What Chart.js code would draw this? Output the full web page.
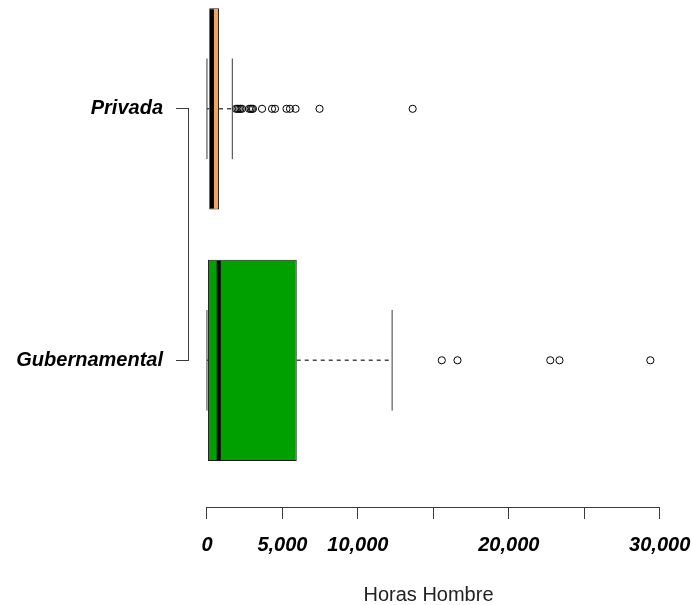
<!DOCTYPE html>
<html>
<head>
<meta charset="utf-8">
<script src="https://cdn.jsdelivr.net/npm/chart.js@4/dist/chart.umd.min.js"></script>
<style>
  html, body { margin: 0; padding: 0; background: #ffffff; }
  #wrap { width: 692px; height: 605px; }
</style>
</head>
<body>
<div id="wrap"><canvas id="c" width="692" height="605"></canvas></div>
<script>
// Boxplot of "Horas Hombre" by sector
const categories = ['Gubernamental', 'Privada'];
const categoryPos = [1, 2];
const boxColors = ['#00A000', '#F0A462'];
const lowerWhisker = [0, 0];
const q1 = [66, 150];
const median = [780, 330];
const q3 = [5950, 800];
const upperWhisker = [12270, 1680];
const outliersGub = [15560, 16600, 22750, 23360, 29380];
const outliersPriv = [1920, 2020, 2120, 2220, 2320, 2790, 2890, 2980, 3050,
                      3650, 4310, 4510, 5270, 5500, 5870, 7460, 13630];
const xTickValues = [0, 5000, 10000, 15000, 20000, 25000, 30000];
const xTickLabels = ['0', '5,000', '10,000', '', '20,000', '', '30,000'];

const FONT = '"Liberation Sans", Arial, sans-serif';
const LINE = '#3a3a3a';

const boxData = categories.map((c, i) => ({ y: categoryPos[i], x: [q1[i], q3[i]] }));
const outlierData = [
  ...outliersGub.map(v => ({ x: v, y: categoryPos[0] })),
  ...outliersPriv.map(v => ({ x: v, y: categoryPos[1] }))
];

// keep the plot region at a fixed size: no extra room reserved for edge labels
function fixScale(s, key, size) {
  s[key] = size;
  s.paddingLeft = 0; s.paddingRight = 0; s.paddingTop = 0; s.paddingBottom = 0;
}

// whiskers, staples, medians and the two axis lines, placed via the chart scales
const boxExtras = {
  id: 'boxExtras',
  afterDatasetsDraw(chart) {
    const { ctx, scales: { x, y }, chartArea } = chart;
    const half = (y.getPixelForValue(0) - y.getPixelForValue(0.4));
    const staple = half * 0.5;
    ctx.save();
    categories.forEach((c, i) => {
      const cy = y.getPixelForValue(categoryPos[i]);
      const px = v => x.getPixelForValue(v);
      // dashed whiskers
      ctx.strokeStyle = '#4a4a4a';
      ctx.lineWidth = 1.4;
      ctx.setLineDash([4, 4]);
      ctx.beginPath();
      ctx.moveTo(px(q3[i]), cy); ctx.lineTo(px(upperWhisker[i]), cy);
      ctx.moveTo(px(q1[i]), cy); ctx.lineTo(px(lowerWhisker[i]), cy);
      ctx.stroke();
      // staples
      ctx.setLineDash([]);
      ctx.strokeStyle = LINE;
      ctx.lineWidth = 1;
      ctx.beginPath();
      ctx.moveTo(px(upperWhisker[i]), cy - staple); ctx.lineTo(px(upperWhisker[i]), cy + staple);
      ctx.moveTo(px(lowerWhisker[i]), cy - staple); ctx.lineTo(px(lowerWhisker[i]), cy + staple);
      ctx.stroke();
      // median
      ctx.strokeStyle = '#000';
      ctx.lineWidth = 4;
      ctx.beginPath();
      ctx.moveTo(px(median[i]), cy - half + 1); ctx.lineTo(px(median[i]), cy + half - 1);
      ctx.stroke();
    });
    // axis lines spanning the tick range only
    ctx.strokeStyle = LINE;
    ctx.lineWidth = 1;
    ctx.beginPath();
    const ax = Math.round(chartArea.bottom) + 0.5;
    ctx.moveTo(x.getPixelForValue(xTickValues[0]), ax);
    ctx.lineTo(x.getPixelForValue(xTickValues[xTickValues.length - 1]), ax);
    const ay = Math.round(chartArea.left) - 0.5;
    ctx.moveTo(ay, y.getPixelForValue(categoryPos[0]));
    ctx.lineTo(ay, y.getPixelForValue(categoryPos[categoryPos.length - 1]));
    ctx.stroke();
    ctx.restore();
  }
};

new Chart(document.getElementById('c'), {
  type: 'bar',
  data: {
    datasets: [
      {
        type: 'bar',
        indexAxis: 'y',
        data: boxData,
        backgroundColor: boxColors,
        borderColor: '#1a1a1a',
        borderWidth: 1,
        borderSkipped: false,
        barPercentage: 0.8,
        categoryPercentage: 1.0,
        order: 2
      },
      {
        type: 'scatter',
        data: outlierData,
        pointStyle: 'circle',
        pointRadius: 3.6,
        pointBorderWidth: 1,
        pointBorderColor: '#000',
        pointBackgroundColor: 'rgba(255,255,255,0)',
        order: 1
      }
    ]
  },
  options: {
    responsive: false,
    animation: false,
    events: [],
    layout: { padding: { left: 0, right: 24, top: 0, bottom: 0 } },
    plugins: { legend: { display: false }, tooltip: { enabled: false } },
    scales: {
      x: {
        type: 'linear',
        position: 'bottom',
        offset: false,
        min: -1190,
        max: 30550,
        afterBuildTicks: s => { s.ticks = xTickValues.map(v => ({ value: v })); },
        afterFit: s => fixScale(s, 'height', 98),
        border: { display: false },
        grid: { offset: false, drawOnChartArea: false, drawTicks: true, tickLength: 12, color: LINE },
        ticks: {
          autoSkip: false,
          maxRotation: 0,
          padding: 14,
          color: '#000',
          font: { family: FONT, size: 20, weight: 'bold', style: 'italic' },
          callback: (v, idx) => xTickLabels[idx]
        },
        title: {
          display: true,
          text: 'Horas Hombre',
          color: '#222',
          font: { family: FONT, size: 20 },
          padding: { top: 0, bottom: -2 }
        }
      },
      y: {
        type: 'linear',
        position: 'left',
        offset: false,
        min: 0.4167,
        max: 2.4127,
        afterBuildTicks: s => { s.ticks = categoryPos.map(v => ({ value: v })); },
        afterFit: s => fixScale(s, 'width', 189),
        border: { display: false },
        grid: { offset: false, drawOnChartArea: false, drawTicks: true, tickLength: 13, color: LINE },
        ticks: {
          autoSkip: false,
          padding: 13,
          color: '#000',
          font: { family: FONT, size: 20, weight: 'bold', style: 'italic' },
          callback: (v, idx) => categories[idx]
        }
      }
    }
  },
  plugins: [boxExtras]
});
</script>
</body>
</html>
